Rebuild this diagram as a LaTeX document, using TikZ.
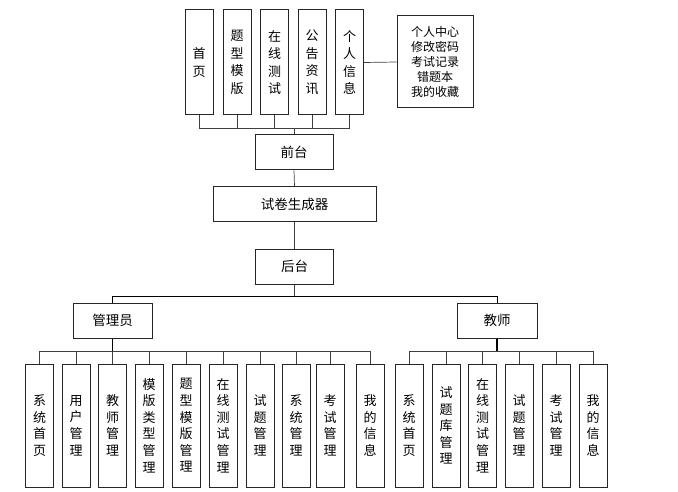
\documentclass[tikz,border=0pt]{standalone}
\usepackage{fontspec}
\setmainfont{Noto Sans CJK SC}
\usetikzlibrary{positioning, calc}

\begin{document}
\begin{tikzpicture}[
        x=1pt, y=-1pt,
        box/.style={rectangle, draw=black!85, line width=1pt, fill=none, minimum width=78pt, minimum height=35pt, align=center, inner sep=0pt, font=\fontsize{13.5}{15}\selectfont},
        topbox/.style={box, minimum width=28pt, minimum height=105pt, font=\fontsize{13}{17.5}\selectfont},
        leafbox/.style={box, minimum width=28pt, minimum height=123pt, font=\fontsize{13}{16.6}\selectfont},
        link/.style={draw=black!75, line width=0.7pt},
        trunk/.style={draw=black, line width=1.4pt}
    ]
        \useasboundingbox (0,0) rectangle (678,492);

        % front end
        \node[topbox] (home) at (199,62.5) {首\\页};
        \node[topbox] (tpl) at (237,62.5) {题\\型\\模\\版};
        \node[topbox] (online) at (274.5,62.5) {在\\线\\测\\试};
        \node[topbox] (notice) at (312,62.5) {公\\告\\资\\讯};
        \node[topbox] (mine) at (349.5,62.5) {个\\人\\信\\息};
        \node[box, minimum width=76pt, minimum height=92pt, font=\fontsize{12}{15}\selectfont] (info) at (435,62) {个人中心\\修改密码\\考试记录\\错题本\\我的收藏};
        \node[box] (front) at (294,152.5) {前台};
        \node[box, minimum width=163pt] (gen) at (294.5,204.5) {试卷生成器};
        \node[box] (back) at (294.5,266.5) {后台};

        % back end
        \node[box, minimum width=79pt] (admin) at (112.5,320.5) {管理员};
        \node[box, minimum width=80pt] (teacher) at (497,320.5) {教师};

        \node[leafbox] (a1) at (39.5,425.5) {系\\统\\首\\页};
        \node[leafbox] (a2) at (76,425.5) {用\\户\\管\\理};
        \node[leafbox] (a3) at (112.5,425.5) {教\\师\\管\\理};
        \node[leafbox] (a4) at (149,425.5) {模\\版\\类\\型\\管\\理};
        \node[leafbox] (a5) at (186,425.5) {题\\型\\模\\版\\管\\理};
        \node[leafbox] (a6) at (223,425.5) {在\\线\\测\\试\\管\\理};
        \node[leafbox] (a7) at (260,425.5) {试\\题\\管\\理};
        \node[leafbox] (a8) at (296,425.5) {系\\统\\管\\理};
        \node[leafbox] (a9) at (330,425.5) {考\\试\\管\\理};
        \node[leafbox] (a10) at (370,425.5) {我\\的\\信\\息};

        \node[leafbox] (t1) at (409,425.5) {系\\统\\首\\页};
        \node[leafbox] (t2) at (446,425.5) {试\\题\\库\\管\\理};
        \node[leafbox] (t3) at (482.5,425.5) {在\\线\\测\\试\\管\\理};
        \node[leafbox] (t4) at (519,425.5) {试\\题\\管\\理};
        \node[leafbox] (t5) at (556,425.5) {考\\试\\管\\理};
        \node[leafbox] (t6) at (593,425.5) {我\\的\\信\\息};

        % bus points
        \coordinate (fbus) at (294,128);
        \coordinate (bbus) at (294.5,296);
        \coordinate (abus) at (112.5,351);
        \coordinate (tbus) at (497,351);

        \draw[link] (home.south) |- (fbus);
        \draw[link] (tpl.south) |- (fbus);
        \draw[link] (online.south) |- (fbus);
        \draw[link] (notice.south) |- (fbus);
        \draw[link] (mine.south) |- (fbus);
        \draw[link] (fbus) -- (front.north);
        \draw[link] (mine.east) -- (info.west);
        \draw[link] (front.south) -- (gen.north);
        \draw[link] (gen.south) -- (back.north);
        \draw[link] (back.south) -- (bbus);
        \draw[link, draw=black] (bbus) -| (admin.north);
        \draw[link, draw=black] (bbus) -| (teacher.north);

        \draw[trunk] (admin.south) -- (abus);
        \foreach \k in {1,...,10}
            \draw[link] (abus) -| (a\k.north);
        \draw[trunk] (teacher.south) -- (tbus);
        \foreach \k in {1,...,6}
            \draw[link] (tbus) -| (t\k.north);
    \end{tikzpicture}
\end{document}
